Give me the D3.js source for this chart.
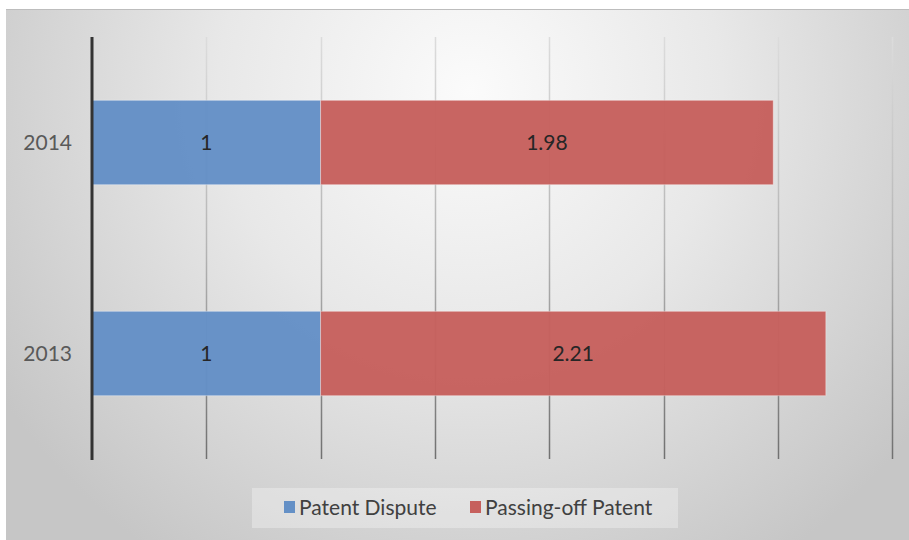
<!DOCTYPE html>
<html>
<head>
<meta charset="utf-8">
<script src="https://cdn.jsdelivr.net/npm/d3@7/dist/d3.min.js"></script>
<style>
  html, body { margin: 0; padding: 0; background: #ffffff; }
  svg { display: block; }
  text { font-family: Lato, "Open Sans", sans-serif; }
</style>
</head>
<body>
<div id="chart"></div>
<script>
// Years shown on the category axis (top to bottom)
const years = ["2014", "2013"];
// Series names and values per year
const seriesNames = ["Patent Dispute", "Passing-off Patent"];
const patentDispute = [1, 1];
const passingOffPatent = [1.98, 2.21];
const seriesColors = ["#6490c6", "#c6605d"];
// Value axis ticks (gridlines only, no labels)
const xTicks = [0, 0.5, 1, 1.5, 2, 2.5, 3, 3.5];

const W = 909, H = 540;
const svg = d3.select("#chart").append("svg")
  .attr("width", W).attr("height", H);

const defs = svg.append("defs");
const bg = defs.append("radialGradient").attr("id", "bgGrad")
  .attr("gradientUnits", "userSpaceOnUse")
  .attr("cx", 470).attr("cy", 90).attr("r", 560);
bg.append("stop").attr("offset", "0").attr("stop-color", "#fbfbfb");
bg.append("stop").attr("offset", "0.45").attr("stop-color", "#e8e8e8");
bg.append("stop").attr("offset", "1").attr("stop-color", "#c6c6c6");

const gl = defs.append("linearGradient").attr("id", "gridGrad")
  .attr("gradientUnits", "userSpaceOnUse")
  .attr("x1", 0).attr("y1", 37).attr("x2", 0).attr("y2", 460);
gl.append("stop").attr("offset", "0").attr("stop-color", "#dcdcdc");
gl.append("stop").attr("offset", "0.5").attr("stop-color", "#b4b4b4");
gl.append("stop").attr("offset", "1").attr("stop-color", "#707070");

// Chart area background with its top edge line
svg.append("rect").attr("x", 6).attr("y", 9).attr("width", W - 6).attr("height", H - 9)
  .attr("fill", "url(#bgGrad)");
svg.append("line").attr("x1", 6).attr("x2", W).attr("y1", 9.5).attr("y2", 9.5)
  .attr("stroke", "#bdbdbd").attr("stroke-width", 1);

const plot = { left: 92, top: 37, bottom: 459 };

const x = d3.scaleLinear().domain([0, 3.5]).range([plot.left, plot.left + 3.5 * 228.6]);
const y = d3.scaleBand().domain(years).range([plot.top, plot.bottom])
  .paddingInner(0.6).paddingOuter(0.3);

// Vertical gridlines
svg.append("g").selectAll("line").data(xTicks.slice(1)).join("line")
  .attr("x1", d => Math.round(x(d)) + 0.5).attr("x2", d => Math.round(x(d)) + 0.5)
  .attr("y1", plot.top).attr("y2", plot.bottom)
  .attr("stroke", "url(#gridGrad)").attr("stroke-width", 1.5);

// Stacked bars
const rows = years.map((yr, i) => ({ year: yr, values: [patentDispute[i], passingOffPatent[i]] }));
const stackData = rows.map(r => {
  let acc = 0;
  return r.values.map((v, k) => { const s = { year: r.year, k, v, x0: acc, x1: acc + v }; acc += v; return s; });
}).flat();

svg.append("g").selectAll("rect").data(stackData).join("rect")
  .attr("x", d => x(d.x0)).attr("width", d => x(d.x1) - x(d.x0))
  .attr("y", d => y(d.year)).attr("height", y.bandwidth())
  .attr("fill", d => seriesColors[d.k]).attr("fill-opacity", 0.97)
  .attr("stroke", "#ffffff").attr("stroke-opacity", 0.35).attr("stroke-width", 1);

// Data labels centered in each segment
svg.append("g").selectAll("text").data(stackData).join("text")
  .attr("x", d => (x(d.x0) + x(d.x1)) / 2)
  .attr("y", d => y(d.year) + y.bandwidth() / 2)
  .attr("dy", "0.38em").attr("text-anchor", "middle")
  .attr("font-size", 21).attr("fill", "#262626")
  .text(d => d.v);

// Category axis line
svg.append("line").attr("x1", plot.left).attr("x2", plot.left)
  .attr("y1", plot.top).attr("y2", plot.bottom + 1)
  .attr("stroke", "#333333").attr("stroke-width", 3);

// Category labels
const yAxis = d3.axisLeft(y).tickSize(0).tickPadding(20);
const yg = svg.append("g").attr("transform", `translate(${plot.left},0)`).call(yAxis);
yg.select(".domain").remove();
yg.selectAll("text").attr("font-size", 21).attr("fill", "#595959")
  .attr("font-family", "Lato, sans-serif").attr("dy", "0.38em");

// Legend
const lg = svg.append("g");
lg.append("rect").attr("x", 252).attr("y", 488).attr("width", 426).attr("height", 40)
  .attr("fill", "#ffffff").attr("fill-opacity", 0.3);
const legendX = [284, 470];
seriesNames.forEach((name, i) => {
  lg.append("rect").attr("x", legendX[i]).attr("y", 501).attr("width", 11).attr("height", 12)
    .attr("fill", seriesColors[i]);
  lg.append("text").attr("x", legendX[i] + 15).attr("y", 515)
    .attr("font-size", 21).attr("fill", "#404040").text(name);
});
</script>
</body>
</html>
